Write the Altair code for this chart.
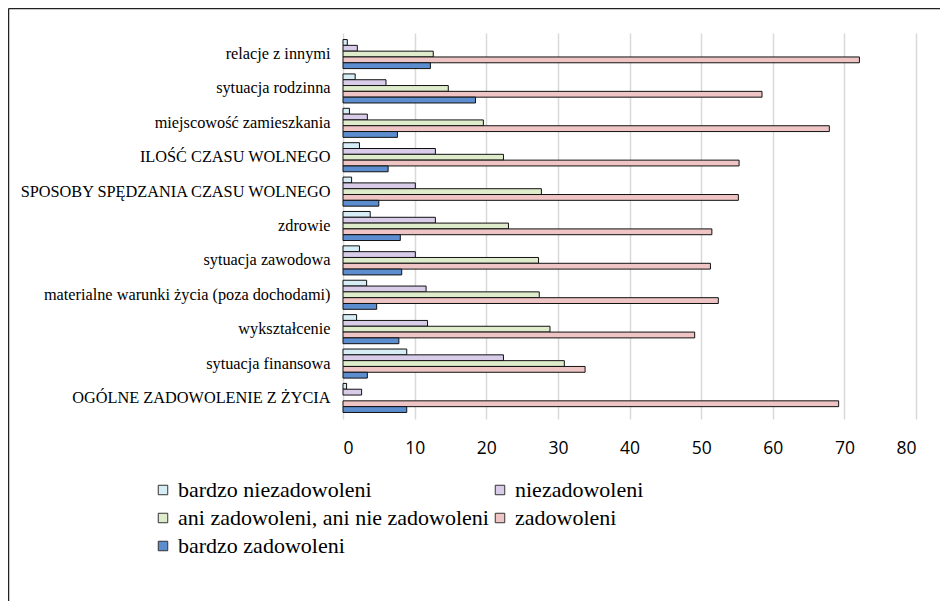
import altair as alt
import pandas as pd

categories = [
    "relacje z innymi",
    "sytuacja rodzinna",
    "miejscowość zamieszkania",
    "ILOŚĆ CZASU WOLNEGO",
    "SPOSOBY SPĘDZANIA CZASU WOLNEGO",
    "zdrowie",
    "sytuacja zawodowa",
    "materialne warunki życia (poza dochodami)",
    "wykształcenie",
    "sytuacja finansowa",
    "OGÓLNE ZADOWOLENIE Z ŻYCIA",
]
series = [
    "bardzo niezadowoleni",
    "niezadowoleni",
    "ani zadowoleni, ani nie zadowoleni",
    "zadowoleni",
    "bardzo zadowoleni",
]
bardzo_niezadowoleni = [0.6, 1.7, 0.9, 2.3, 1.2, 3.8, 2.3, 3.3, 1.9, 8.9, 0.5]
niezadowoleni = [2.0, 6.0, 3.4, 12.9, 10.1, 12.9, 10.1, 11.6, 11.8, 22.4, 2.6]
ani = [12.6, 14.7, 19.6, 22.4, 27.7, 23.1, 27.3, 27.4, 28.9, 30.9, None]
zadowoleni = [72.1, 58.5, 67.9, 55.3, 55.2, 51.5, 51.3, 52.4, 49.1, 33.8, 69.2]
bardzo_zadowoleni = [12.2, 18.5, 7.6, 6.3, 5.0, 8.0, 8.2, 4.7, 7.8, 3.4, 8.9]
x_ticks = [0, 10, 20, 30, 40, 50, 60, 70, 80]
colors = ["#d6edf5", "#d8cce9", "#dfeccb", "#efc4c4", "#5b8dcf"]

SERIF = "Liberation Serif"

rows = []
for i, c in enumerate(categories):
    for s, vals in zip(series, [bardzo_niezadowoleni, niezadowoleni, ani, zadowoleni, bardzo_zadowoleni]):
        v = vals[i]
        if v is not None:
            rows.append({"cat": c, "series": s, "value": v})
df = pd.DataFrame(rows)

bars = alt.Chart(df).mark_bar(stroke="#111111", strokeWidth=1).encode(
    x=alt.X(
        "value:Q",
        scale=alt.Scale(domain=[0, 80], nice=False),
        axis=alt.Axis(
            title=None, values=x_ticks, grid=True, gridColor="#d9d9d9", gridWidth=1.5,
            domain=False, ticks=False, labelFont="Open Sans", labelFontSize=17.5,
            labelColor="#000000", labelPadding=20,
        ),
    ),
    y=alt.Y(
        "cat:N", sort=categories,
        scale=alt.Scale(paddingInner=0.155, paddingOuter=0.19),
        axis=alt.Axis(
            title=None, domain=False, ticks=False, labelFont=SERIF,
            labelFontSize=16.3, labelColor="#000000", labelPadding=13, labelLimit=400,
        ),
    ),
    yOffset=alt.YOffset("series:N", sort=series, scale=alt.Scale(paddingInner=0, paddingOuter=0)),
    color=alt.Color(
        "series:N", sort=series,
        scale=alt.Scale(domain=series, range=colors),
        legend=alt.Legend(
            title=None, orient="none", legendX=-191, legendY=446, columns=2,
            direction="horizontal",
            symbolType="square", symbolSize=90, symbolStrokeColor="#333333",
            symbolStrokeWidth=1, labelFont=SERIF, labelFontSize=22,
            labelColor="#000000", labelOffset=4, rowPadding=6, columnPadding=0,
            labelLimit=500,
        ),
    ),
)

one = pd.DataFrame({"a": [0]})
border_top = alt.Chart(one).mark_rule(color="#222222", strokeWidth=1.5).encode(
    x=alt.value(-334.5), x2=alt.value(700), y=alt.value(-24.5)
)
border_left = alt.Chart(one).mark_rule(color="#222222", strokeWidth=1.5).encode(
    x=alt.value(-334.5), y=alt.value(-24.5), y2=alt.value(600)
)

chart = alt.layer(bars, border_top, border_left).properties(
    width=573, height=386,
    autosize=alt.AutoSizeParams(type="none"),
    padding={"left": 335, "top": 25, "right": 24, "bottom": 182},
).configure_view(stroke=None)

chart.save("out.html", embed_options={"renderer": "svg", "actions": False})
